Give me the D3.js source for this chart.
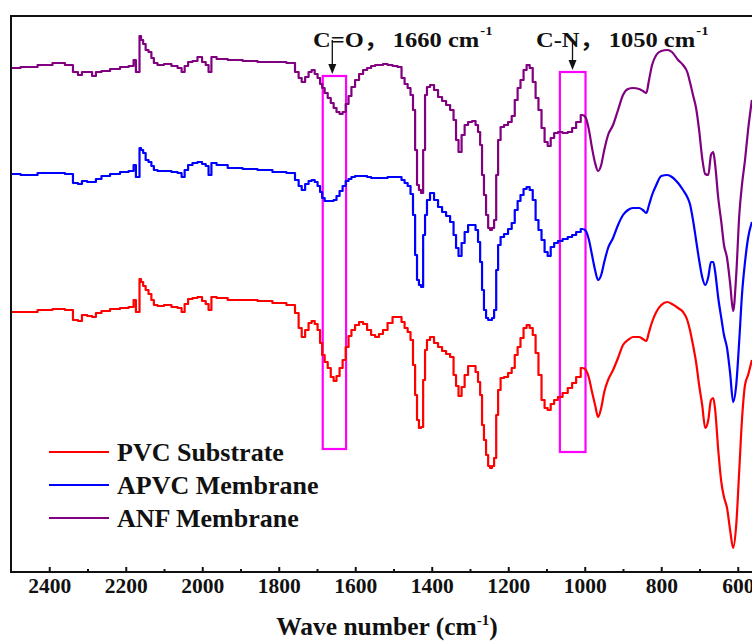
<!DOCTYPE html>
<html>
<head>
<meta charset="utf-8">
<script src="https://cdn.jsdelivr.net/npm/d3@7"></script>
<style>
  html, body { margin: 0; padding: 0; background: #ffffff; }
  svg { display: block; }
  text { font-family: "Liberation Serif", "Times New Roman", serif; font-weight: bold; fill: #111; }
</style>
</head>
<body>
<svg id="chart" width="752" height="641"></svg>
<script>
// FTIR spectra (stacked transmittance, arbitrary units)
const wavenumbers = [
  2500, 2450, 2411, 2372, 2346, 2330, 2320, 2309, 2293, 2283, 2273, 2254, 2228, 2202, 2183, 2176,
  2171, 2165, 2163, 2157, 2152, 2144, 2137, 2129, 2124, 2110, 2090, 2071, 2058, 2050, 2042, 2032,
  2019, 2006, 1995, 1987, 1980, 1972, 1953, 1914, 1875, 1836, 1797, 1763, 1752, 1744, 1736, 1726,
  1718, 1710, 1702, 1695, 1689, 1684, 1676, 1668, 1660, 1653, 1645, 1637, 1629, 1621, 1614, 1606,
  1595, 1585, 1574, 1564, 1553, 1543, 1533, 1522, 1509, 1496, 1483, 1475, 1467, 1459, 1452, 1446,
  1441, 1436, 1431, 1425, 1420, 1415, 1410, 1399, 1389, 1378, 1368, 1357, 1347, 1339, 1334, 1326,
  1318, 1310, 1300, 1289, 1282, 1276, 1271, 1266, 1261, 1255, 1250, 1245, 1240, 1234, 1229, 1224,
  1216, 1206, 1195, 1187, 1179, 1172, 1164, 1156, 1148, 1140, 1132, 1125, 1117, 1109, 1101, 1093,
  1085, 1075, 1065, 1051, 1038, 1028, 1017, 1004,
  997, 989, 981, 973, 965, 957, 949, 939, 926, 913, 900, 887, 874, 858, 848, 839,
  832, 824, 813, 800, 784, 772, 756, 743, 732, 725, 717, 709, 701, 693, 685, 677,
  670, 664, 659, 651, 643, 636, 628, 620, 612, 604, 596, 589, 581, 573, 563
];

const anfMembrane = [
  504, 505, 507, 509, 507, 500, 497, 500, 500, 496, 500, 501, 503, 505, 506, 512,
  500, 500, 536, 532, 528, 522, 520, 514, 509, 507, 508, 506, 504, 500, 506, 510,
  511, 515, 510, 507, 500, 515, 513, 512, 511, 510, 510, 509, 500, 494, 490, 495,
  500, 502, 498, 494, 488, 484, 479, 474, 469, 464, 460, 458, 460, 468, 476, 485,
  492, 498, 502, 504, 506, 507, 507, 508, 507, 506, 505, 494, 488, 484, 477, 462,
  422, 387, 382, 379, 422, 477, 485, 487, 482, 475, 471, 467, 462, 452, 432, 420,
  437, 447, 450, 451, 447, 440, 427, 397, 377, 357, 344, 342, 344, 352, 397, 432,
  445, 447, 450, 456, 472, 484, 492, 502, 507, 504, 490, 474, 462, 444, 430, 426,
  434, 439, 440, 439, 440, 444, 450, 457,
  454, 442, 424, 409, 401, 407, 422, 437, 447, 462, 477, 483, 484, 483, 481, 479,
  492, 507, 517, 521, 522, 520, 512, 507, 500, 490, 477, 464, 442, 414, 398, 397,
  417, 420, 407, 374, 350, 327, 314, 289, 261, 297, 357, 387, 412, 442, 472
];

const apvcMembrane = [
  398, 397, 399, 399, 398, 389, 388, 391, 390, 390, 393, 396, 398, 400, 401, 407,
  395, 395, 424, 422, 419, 412, 410, 406, 402, 401, 401, 400, 399, 395, 402, 407,
  409, 410, 408, 406, 397, 409, 407, 404, 403, 402, 400, 399, 392, 386, 382, 388,
  391, 392, 390, 386, 380, 374, 371, 371, 371, 372, 376, 381, 386, 391, 393, 395,
  396, 396, 396, 395, 394, 394, 394, 394, 395, 395, 395, 392, 389, 386, 378, 357,
  317, 292, 287, 285, 337, 357, 372, 379, 372, 365, 360, 356, 350, 337, 324, 316,
  329, 340, 347, 347, 342, 330, 310, 282, 262, 254, 252, 252, 254, 262, 302, 327,
  335, 338, 343, 349, 362, 371, 377, 383, 385, 382, 372, 352, 342, 332, 320, 316,
  325, 329, 331, 333, 335, 337, 340, 343,
  341, 332, 317, 302, 292, 297, 310, 324, 334, 347, 357, 362, 364, 364, 362, 359,
  367, 377, 387, 396, 397, 395, 389, 382, 375, 368, 352, 332, 312, 295, 287, 295,
  310, 310, 300, 274, 254, 237, 224, 199, 170, 187, 232, 277, 310, 334, 350
];

const pvcSubstrate = [
  260, 260, 262, 263, 262, 252, 251, 257, 256, 255, 259, 261, 263, 264, 265, 272,
  260, 260, 293, 290, 286, 282, 278, 272, 267, 266, 267, 265, 264, 260, 268, 273,
  274, 275, 271, 268, 262, 275, 274, 272, 272, 271, 269, 267, 259, 244, 235, 242,
  249, 251, 248, 242, 229, 217, 210, 204, 195, 191, 196, 204, 212, 225, 236, 242,
  247, 250, 248, 242, 237, 235, 238, 242, 249, 255, 255, 250, 244, 240, 232, 207,
  177, 152, 144, 145, 192, 222, 232, 235, 229, 225, 221, 218, 215, 197, 186, 176,
  185, 197, 206, 206, 200, 190, 177, 147, 132, 117, 106, 104, 106, 114, 157, 182,
  194, 195, 199, 204, 217, 225, 234, 244, 247, 244, 237, 219, 197, 172, 164, 162,
  168, 172, 175, 179, 184, 189, 195, 204,
  202, 194, 180, 167, 155, 164, 180, 192, 202, 214, 227, 232, 235, 235, 233, 231,
  240, 250, 260, 267, 270, 268, 264, 260, 252, 242, 227, 210, 187, 167, 144, 152,
  172, 174, 162, 122, 90, 75, 64, 42, 24, 47, 102, 152, 187, 197, 212
];

const seriesNames = ["PVC Substrate", "APVC Membrane", "ANF Membrane"];
const seriesColors = ["#ff0000", "#0000ff", "#800080"];
const seriesValues = [pvcSubstrate, apvcMembrane, anfMembrane];

const xTicks = [2400, 2200, 2000, 1800, 1600, 1400, 1200, 1000, 800, 600];
const xMinorTicks = [2300, 2100, 1900, 1700, 1500, 1300, 1100, 900, 700];

// Band annotations: formula, position, highlighted wavenumber window
const bandGroups = ["C=O", "C-N"];
const bandCenters = ["1660", "1050"];
const bandArrowAt = [1660, 1032];
const bandRanges = [[1685, 1624], [1065, 998]];
const bandTop = [496, 500];
const bandBottom = [123, 120];

// Sampled (stepped) region ends here; below it the spectra are smooth
const smoothBelow = 1004;

const svg = d3.select("#chart");

const x = d3.scaleLinear().domain([2500, 500]).range([11, 776]);
const y = d3.scaleLinear().domain([0, 556]).range([572, 16]);

svg.append("defs").append("clipPath").attr("id", "plotClip")
  .append("rect").attr("x", 11).attr("y", 16).attr("width", 765).attr("height", 556);

const plot = svg.append("g").attr("clip-path", "url(#plotClip)");

// Highlight boxes
bandRanges.forEach((r, i) => {
  plot.append("rect")
    .attr("x", x(r[0]))
    .attr("y", y(bandTop[i]))
    .attr("width", x(r[1]) - x(r[0]))
    .attr("height", y(bandBottom[i]) - y(bandTop[i]))
    .attr("fill", "none")
    .attr("stroke", "#ff00ff")
    .attr("stroke-width", 2.2);
});

// Spectra
const stepLine = d3.line().x(d => x(d[0])).y(d => y(d[1])).curve(d3.curveStep);
const smoothLine = d3.line().x(d => x(d[0])).y(d => y(d[1])).curve(d3.curveMonotoneX);

seriesValues.forEach((vals, i) => {
  const pts = wavenumbers.map((w, j) => [w, vals[j]]);
  const stepped = pts.filter(p => p[0] >= smoothBelow);
  const smooth = pts.filter(p => p[0] <= smoothBelow);
  [[stepped, stepLine], [smooth, smoothLine]].forEach(([data, gen]) => {
    plot.append("path")
      .attr("d", gen(data))
      .attr("fill", "none")
      .attr("stroke", seriesColors[i])
      .attr("stroke-width", 2.2)
      .attr("stroke-linejoin", "round");
  });
});

// Frame
svg.append("rect")
  .attr("x", 11).attr("y", 16)
  .attr("width", 765).attr("height", 556)
  .attr("fill", "none").attr("stroke", "#111").attr("stroke-width", 2);

// Bottom axis with inward ticks
const axis = d3.axisBottom(x).tickValues(xTicks).tickSize(-5).tickPadding(0).tickFormat(d3.format("d"));
const gx = svg.append("g").attr("transform", "translate(0,572)").call(axis);
gx.select(".domain").remove();
gx.selectAll(".tick line").attr("stroke", "#111").attr("stroke-width", 2);
gx.selectAll(".tick text")
  .attr("x", 0)
  .attr("y", 21)
  .attr("dy", null)
  .style("font-size", "21.5px")
  .attr("fill", "#111");

const minor = d3.axisBottom(x).tickValues(xMinorTicks).tickSize(-3).tickFormat("");
const gm = svg.append("g").attr("transform", "translate(0,572)").call(minor);
gm.select(".domain").remove();
gm.selectAll(".tick line").attr("stroke", "#111").attr("stroke-width", 2);

// Axis title
const title = svg.append("text")
  .attr("x", 387).attr("y", 635)
  .attr("text-anchor", "middle")
  .style("font-size", "25.5px");
title.append("tspan").text("Wave number (cm");
title.append("tspan").text("-1").attr("dy", -10).style("font-size", "15px");
title.append("tspan").text(")").attr("dy", 10);

// Band labels with arrows
const labelX = [313, 536];
bandGroups.forEach((g, i) => {
  const t = svg.append("text")
    .attr("transform", `translate(${labelX[i]},47) scale(1.14,1)`)
    .style("font-size", "21.5px");
  t.append("tspan").text(g);
  t.append("tspan").text("，").style("font-family", "'Noto Sans CJK SC'").style("font-weight", "bold");
  t.append("tspan").text(bandCenters[i] + " cm").attr("dx", 4);
  t.append("tspan").text("-1").attr("dx", 1).attr("dy", -12).style("font-size", "13px");

  const ax = x(bandArrowAt[i]);
  const yTop = i === 0 ? 40 : 43;
  const yTip = y(bandTop[i]) - 2;
  svg.append("line")
    .attr("x1", ax).attr("x2", ax)
    .attr("y1", yTop).attr("y2", yTip - 6)
    .attr("stroke", "#111").attr("stroke-width", 1.3);
  svg.append("path")
    .attr("d", `M${ax - 4},${yTip - 10} L${ax + 4},${yTip - 10} L${ax},${yTip} Z`)
    .attr("fill", "#111");
});

// Legend
const legendY = [452, 485, 518];
seriesNames.forEach((name, i) => {
  svg.append("line")
    .attr("x1", 49).attr("x2", 109)
    .attr("y1", legendY[i]).attr("y2", legendY[i])
    .attr("stroke", seriesColors[i]).attr("stroke-width", 2.2);
  svg.append("text")
    .attr("x", 117).attr("y", legendY[i] + 9)
    .style("font-size", "26px")
    .text(name);
});
</script>
</body>
</html>
